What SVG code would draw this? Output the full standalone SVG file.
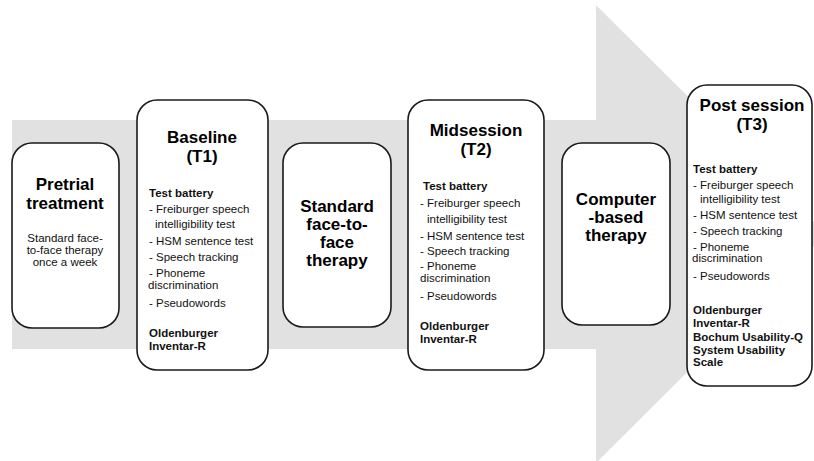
<svg xmlns="http://www.w3.org/2000/svg" width="814" height="461" viewBox="0 0 814 461">
<style>
.box{fill:#fff;stroke:#1a1a1a;stroke-width:1.6}
.t{font-family:"Liberation Sans",Arial,sans-serif;font-weight:bold;font-size:17px;fill:#000;text-anchor:middle}
.s{font-family:"Liberation Sans",Arial,sans-serif;font-size:11.5px;fill:#111}
.sc{font-family:"Liberation Sans",Arial,sans-serif;font-size:11.5px;fill:#111;text-anchor:middle}
.b{font-family:"Liberation Sans",Arial,sans-serif;font-size:11.5px;font-weight:bold;fill:#111}
</style>
<rect width="814" height="461" fill="#fff"/>
<g id="timeline-arrow">
<polygon points="12,120 596,120 596,5 826,234 596,463 596,349 12,349" fill="#e1e1e1"/>
</g>
<g id="connectors"/>
<g id="pretrial">
<rect class="box" x="12" y="143" width="107" height="185" rx="20"/>
<text class="t" x="65" y="190">Pretrial</text>
<text class="t" x="65" y="209">treatment</text>
<text class="sc" x="65" y="242">Standard face-</text>
<text class="sc" x="65" y="254">to-face therapy</text>
<text class="sc" x="65" y="266">once a week</text>
</g>
<g id="baseline">
<rect class="box" x="137" y="100" width="131" height="270" rx="20"/>
<text class="t" x="202" y="143">Baseline</text>
<text class="t" x="202" y="162">(T1)</text>
<text class="b" x="149" y="197">Test battery</text>
<text class="s" x="149" y="213">- Freiburger speech</text>
<text class="s" x="155" y="228">intelligibility  test</text>
<text class="s" x="149" y="245">- HSM  sentence test</text>
<text class="s" x="149" y="261">- Speech tracking</text>
<text class="s" x="149" y="277">- Phoneme</text>
<text class="s" x="148" y="289">discrimination</text>
<text class="s" x="149" y="307">- Pseudowords</text>
<text class="b" x="149" y="337">Oldenburger</text>
<text class="b" x="149" y="350">Inventar-R</text>
</g>
<g id="standard-therapy">
<rect class="box" x="283" y="143" width="108" height="184" rx="20"/>
<text class="t" x="337" y="212">Standard</text>
<text class="t" x="337" y="230">face-to-</text>
<text class="t" x="337" y="248">face</text>
<text class="t" x="337" y="266">therapy</text>
</g>
<g id="midsession">
<rect class="box" x="408" y="100" width="136" height="270" rx="20"/>
<text class="t" x="476" y="136">Midsession</text>
<text class="t" x="476" y="155">(T2)</text>
<text class="b" x="423" y="190">Test battery</text>
<text class="s" x="420" y="207">- Freiburger speech</text>
<text class="s" x="427" y="223">intelligibility  test</text>
<text class="s" x="420" y="240">- HSM  sentence test</text>
<text class="s" x="420" y="255">- Speech tracking</text>
<text class="s" x="420" y="270">- Phoneme</text>
<text class="s" x="420" y="282">discrimination</text>
<text class="s" x="420" y="300">- Pseudowords</text>
<text class="b" x="420" y="330">Oldenburger</text>
<text class="b" x="420" y="343">Inventar-R</text>
</g>
<g id="computer-therapy">
<rect class="box" x="562" y="143" width="108" height="182" rx="20"/>
<text class="t" x="616" y="205">Computer</text>
<text class="t" x="616" y="223">-based</text>
<text class="t" x="616" y="241">therapy</text>
</g>
<g id="post-session">
<rect class="box" x="687" y="85" width="125" height="301" rx="20"/>
<text class="t" x="752" y="111">Post session</text>
<text class="t" x="752" y="130">(T3)</text>
<text class="b" x="693" y="173">Test battery</text>
<text class="s" x="693" y="189">- Freiburger speech</text>
<text class="s" x="700" y="203">intelligibility  test</text>
<text class="s" x="693" y="219">- HSM  sentence test</text>
<text class="s" x="693" y="235">- Speech tracking</text>
<text class="s" x="693" y="251">- Phoneme</text>
<text class="s" x="692" y="262">discrimination</text>
<text class="s" x="693" y="280">- Pseudowords</text>
<text class="b" x="693" y="314">Oldenburger</text>
<text class="b" x="693" y="327">Inventar-R</text>
<text class="b" x="693" y="341">Bochum Usability-Q</text>
<text class="b" x="693" y="354">System Usability</text>
<text class="b" x="693" y="366">Scale</text>
</g>
</svg>
